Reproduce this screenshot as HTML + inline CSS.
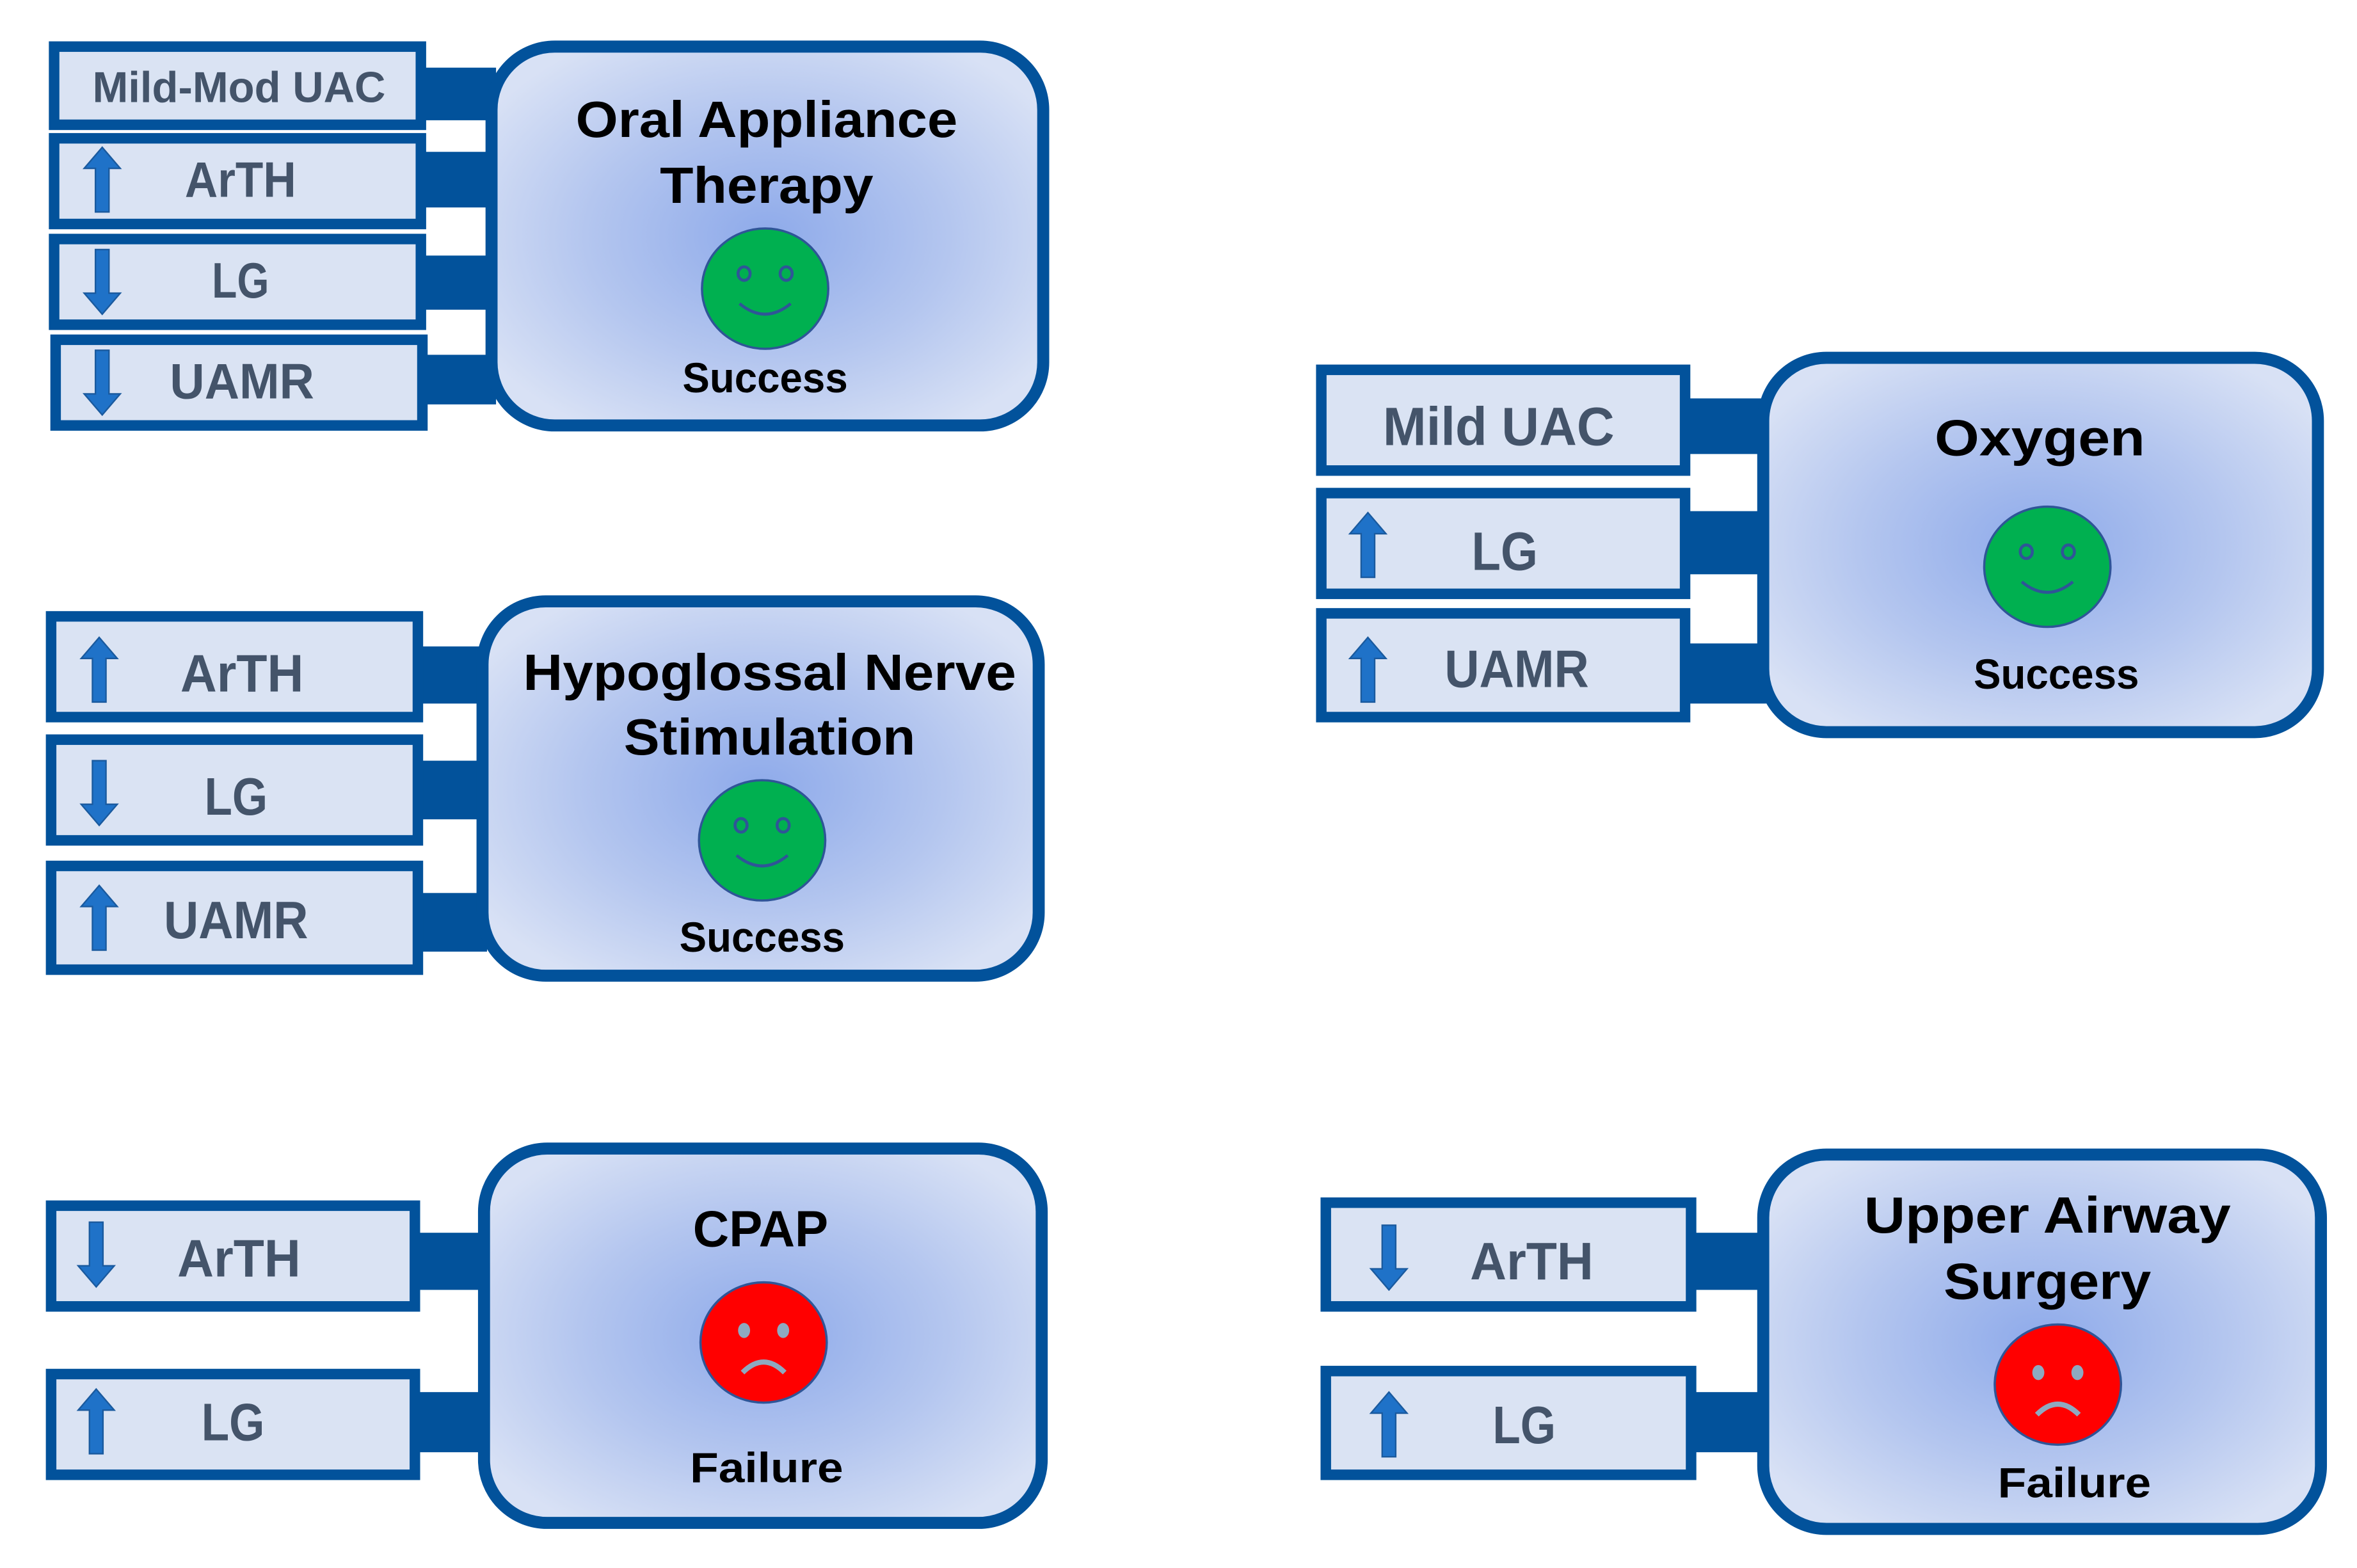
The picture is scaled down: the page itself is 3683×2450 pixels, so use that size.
<!DOCTYPE html>
<html><head><meta charset="utf-8"><style>
html,body{margin:0;padding:0;background:#fff;}
svg{display:block;}
.lab{font-family:"Liberation Sans",sans-serif;font-weight:bold;fill:#44546a;text-anchor:middle;}
.tit{font-family:"Liberation Sans",sans-serif;font-weight:bold;fill:#000;text-anchor:middle;}
</style></head><body>
<svg width="3683" height="2450" viewBox="0 0 1568 1043" preserveAspectRatio="none" xmlns="http://www.w3.org/2000/svg">
<defs>
<radialGradient id="g" cx="50%" cy="50%" r="60%">
<stop offset="0" stop-color="#8eaaea"/><stop offset="0.55" stop-color="#b4c6ef"/><stop offset="1" stop-color="#d8e1f5"/>
</radialGradient>
<path id="up" d="M0,-22 L12,-8 L4.5,-8 L4.5,21 L-4.5,21 L-4.5,-8 L-12,-8 Z" fill="#1f72c8" stroke="#1a5a9e" stroke-width="1"/>
<path id="dn" d="M0,22 L12,8 L4.5,8 L4.5,-21 L-4.5,-21 L-4.5,8 L-12,8 Z" fill="#1f72c8" stroke="#1a5a9e" stroke-width="1"/>
<g id="happy"><ellipse cx="0" cy="0" rx="42" ry="40" fill="#00b050" stroke="#2f5597" stroke-width="1.5"/>
<ellipse cx="-14" cy="-10" rx="4" ry="4.5" fill="none" stroke="#2f5597" stroke-width="2"/><ellipse cx="14" cy="-10" rx="4" ry="4.5" fill="none" stroke="#2f5597" stroke-width="2"/>
<path d="M-17,10 Q0,24 17,10" fill="none" stroke="#2f5597" stroke-width="2"/></g>
<g id="sad"><ellipse cx="0" cy="0" rx="42" ry="40" fill="#ff0000" stroke="#2f5597" stroke-width="1.5"/>
<ellipse cx="-13" cy="-8" rx="4" ry="5" fill="#8ea9c0"/><ellipse cx="13" cy="-8" rx="4" ry="5" fill="#8ea9c0"/>
<path d="M-14,20 Q0,6 14,20" fill="none" stroke="#8ea9c0" stroke-width="3.5"/></g>
</defs>
<g fill="#02529b">
<rect x="280" y="45" width="50" height="35"/><rect x="280" y="101" width="50" height="37"/><rect x="280" y="170" width="50" height="36"/><rect x="280" y="236" width="50" height="33"/>
<rect x="278" y="430" width="46" height="38"/><rect x="278" y="506" width="46" height="39"/><rect x="278" y="594" width="46" height="39"/>
<rect x="276" y="820" width="48" height="38"/><rect x="276" y="926" width="48" height="40"/>
<rect x="1121" y="265" width="54" height="37"/><rect x="1121" y="340" width="54" height="42"/><rect x="1121" y="428" width="54" height="40"/>
<rect x="1125" y="820" width="50" height="38"/><rect x="1125" y="926" width="50" height="40"/>
</g>
<g fill="#dae3f3" stroke="#02529b" stroke-width="7">
<rect x="36" y="31" width="244" height="52"/><rect x="36" y="92" width="244" height="57"/><rect x="36" y="159" width="244" height="57"/><rect x="37" y="226" width="244" height="57"/>
<rect x="34" y="410" width="244" height="67"/><rect x="34" y="492" width="244" height="67"/><rect x="34" y="576" width="244" height="69"/>
<rect x="34" y="802" width="242" height="67"/><rect x="34" y="914" width="242" height="67"/>
<rect x="879" y="246" width="242" height="67"/><rect x="879" y="328" width="242" height="67"/><rect x="879" y="408" width="242" height="69"/>
<rect x="882" y="800" width="243" height="69"/><rect x="882" y="912" width="243" height="69"/>
</g>
<g fill="url(#g)" stroke="#02529b" stroke-width="8">
<rect x="327" y="31" width="367" height="252" rx="42"/>
<rect x="321" y="400" width="370" height="249" rx="42"/>
<rect x="322" y="764" width="371" height="249" rx="42"/>
<rect x="1173" y="238" width="369" height="249" rx="42"/>
<rect x="1173" y="768" width="371" height="249" rx="42"/>
</g>
<text class="lab" x="159" y="68" font-size="29" textLength="195" lengthAdjust="spacingAndGlyphs">Mild-Mod UAC</text>
<text class="lab" x="160" y="131" font-size="33" textLength="74" lengthAdjust="spacingAndGlyphs">ArTH</text>
<text class="lab" x="160" y="198" font-size="33" textLength="38" lengthAdjust="spacingAndGlyphs">LG</text>
<text class="lab" x="161" y="265" font-size="33" textLength="96" lengthAdjust="spacingAndGlyphs">UAMR</text>
<use href="#up" x="68" y="120"/><use href="#dn" x="68" y="187"/><use href="#dn" x="68" y="254"/>

<text class="lab" x="161" y="460" font-size="35" textLength="82" lengthAdjust="spacingAndGlyphs">ArTH</text>
<text class="lab" x="157" y="542" font-size="35" textLength="42" lengthAdjust="spacingAndGlyphs">LG</text>
<text class="lab" x="157" y="624" font-size="35" textLength="96" lengthAdjust="spacingAndGlyphs">UAMR</text>
<use href="#up" x="66" y="446"/><use href="#dn" x="66" y="527"/><use href="#up" x="66" y="611"/>

<text class="lab" x="159" y="849" font-size="35" textLength="82" lengthAdjust="spacingAndGlyphs">ArTH</text>
<text class="lab" x="155" y="958" font-size="35" textLength="42" lengthAdjust="spacingAndGlyphs">LG</text>
<use href="#dn" x="64" y="834"/><use href="#up" x="64" y="946"/>

<text class="lab" x="997" y="296" font-size="36" textLength="154" lengthAdjust="spacingAndGlyphs">Mild UAC</text>
<text class="lab" x="1001" y="379" font-size="36" textLength="44" lengthAdjust="spacingAndGlyphs">LG</text>
<text class="lab" x="1009" y="457" font-size="35" textLength="96" lengthAdjust="spacingAndGlyphs">UAMR</text>
<use href="#up" x="910" y="363"/><use href="#up" x="910" y="446"/>

<text class="lab" x="1019" y="851" font-size="35" textLength="82" lengthAdjust="spacingAndGlyphs">ArTH</text>
<text class="lab" x="1014" y="960" font-size="35" textLength="42" lengthAdjust="spacingAndGlyphs">LG</text>
<use href="#dn" x="924" y="836"/><use href="#up" x="924" y="948"/>

<text class="tit" x="510" y="91" font-size="34" textLength="254" lengthAdjust="spacingAndGlyphs">Oral Appliance</text>
<text class="tit" x="510" y="135" font-size="34" textLength="142" lengthAdjust="spacingAndGlyphs">Therapy</text>
<use href="#happy" x="509" y="192"/>
<text class="tit" x="509" y="261" font-size="28" textLength="110" lengthAdjust="spacingAndGlyphs">Success</text>

<text class="tit" x="512" y="459" font-size="34" textLength="328" lengthAdjust="spacingAndGlyphs">Hypoglossal Nerve</text>
<text class="tit" x="512" y="502" font-size="34" textLength="194" lengthAdjust="spacingAndGlyphs">Stimulation</text>
<use href="#happy" x="507" y="559"/>
<text class="tit" x="507" y="633" font-size="28" textLength="110" lengthAdjust="spacingAndGlyphs">Success</text>

<text class="tit" x="506" y="829" font-size="34" textLength="90" lengthAdjust="spacingAndGlyphs">CPAP</text>
<use href="#sad" x="508" y="893"/>
<text class="tit" x="510" y="986" font-size="28" textLength="102" lengthAdjust="spacingAndGlyphs">Failure</text>

<text class="tit" x="1357" y="303" font-size="34" textLength="140" lengthAdjust="spacingAndGlyphs">Oxygen</text>
<use href="#happy" x="1362" y="377"/>
<text class="tit" x="1368" y="458" font-size="28" textLength="110" lengthAdjust="spacingAndGlyphs">Success</text>

<text class="tit" x="1362" y="820" font-size="34" textLength="244" lengthAdjust="spacingAndGlyphs">Upper Airway</text>
<text class="tit" x="1362" y="864" font-size="34" textLength="138" lengthAdjust="spacingAndGlyphs">Surgery</text>
<use href="#sad" x="1369" y="921"/>
<text class="tit" x="1380" y="996" font-size="28" textLength="102" lengthAdjust="spacingAndGlyphs">Failure</text>
</svg>
</body></html>
